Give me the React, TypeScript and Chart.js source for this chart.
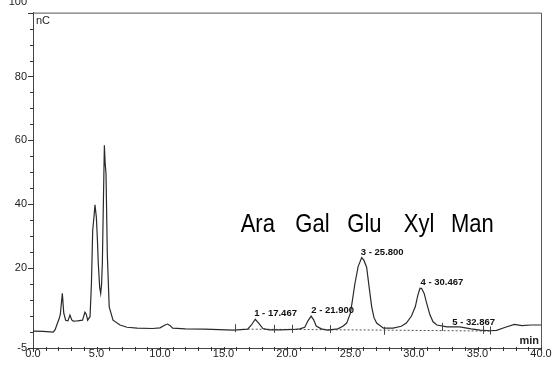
import React, { useEffect, useRef } from "react";
import { Chart, registerables } from "chart.js";

Chart.register(...registerables);

// Chromatogram trace (time in min, signal in nC)
const times = [
  0.0, 0.8, 1.6, 1.75, 1.9, 2.07, 2.15, 2.31, 2.42, 2.57, 2.75, 2.91, 3.05, 3.17, 3.5, 3.9, 4.09, 4.2, 4.3, 4.49,
  4.6, 4.7, 4.8, 4.88, 4.99, 5.07, 5.14, 5.25, 5.33, 5.4, 5.46, 5.54, 5.62, 5.68, 5.75, 5.85, 6.0, 6.3, 6.85, 7.4,
  8.2, 9.4, 10.0, 10.4, 10.6, 10.8, 11.0, 12.0, 13.5, 15.8, 16.9, 17.2, 17.5, 17.8, 18.1, 18.6, 19.5, 20.5, 21.0, 21.4,
  21.65, 21.9, 22.1, 22.3, 22.7, 23.2, 24.0, 24.4, 24.7, 25.0, 25.35, 25.6, 25.88, 26.05, 26.27, 26.47, 26.67, 26.85, 27.06, 27.6,
  28.35, 29.0, 29.4, 29.8, 30.1, 30.3, 30.47, 30.6, 30.8, 31.0, 31.26, 31.5, 31.8, 32.6, 33.6, 34.5, 35.2, 36.0, 36.5, 37.2,
  37.9, 38.5, 39.2, 40.0,
];
const signal = [
  0.3, 0.2, 0.0, 0.8, 2.5, 4.3, 5.5, 12.1, 6.0, 3.7, 3.5, 5.3, 3.8, 3.4, 3.5, 3.7, 6.2, 5.5, 3.7, 4.8,
  15, 31.8, 36, 39.8, 35.9, 29, 21.5, 14, 12.1, 15, 21.5, 40.2, 58.5, 53, 49.5, 24.6, 7.9, 3.7, 2.2, 1.5,
  1.2, 1.1, 1.3, 2.2, 2.5, 2.0, 1.2, 1.0, 0.9, 0.6, 0.9, 2.2, 4.0, 2.6, 1.1, 0.7, 0.7, 0.8, 1.0, 1.5,
  3.5, 5.0, 3.8, 1.9, 1.0, 0.6, 1.0, 1.8, 2.8, 6.0, 15.2, 20.5, 23.3, 22.5, 20.3, 14, 7.9, 4.5, 2.8, 1.2,
  1.2, 1.8, 2.8, 5.0, 7.9, 11.5, 13.7, 13.6, 12.1, 9.0, 5.3, 3.2, 2.2, 1.6, 1.6, 1.0, 0.6, 0.4, 0.5, 1.5,
  2.4, 2.0, 2.2, 2.2,
];

// Integration baseline (dashed)
const baseTimes = [16.9, 27.6, 36.0];
const baseValues = [0.9, 0.6, 0.3];

// Integration markers (short vertical ticks)
const markerTimes = [15.9, 19.0, 20.4, 23.4, 27.6, 32.2, 35.4, 36.0];
const markerValues = [1.2, 1.0, 1.0, 0.9, 0.4, 1.6, 0.7, 0.5];

// Peak labels
const peakLabels = ["1 - 17.467", "2 - 21.900", "3 - 25.800", "4 - 30.467", "5 - 32.867"];
const peakLabelX = [19.1, 23.6, 27.5, 32.2, 34.7];
const peakLabelY = [5.9, 6.8, 24.9, 15.6, 3.1];

// Sugar names
const sugars = ["Ara", "Gal", "Glu", "Xyl", "Man"];
const sugarX = [17.7, 22.0, 26.1, 30.4, 34.6];
const sugarY = 33.6;

// Axis ticks
const yLabelled = [-5, 20, 40, 60, 80, 100];
const xMin = 0;
const xMax = 40;
const yMin = -5;
const yMax = 100;

const FONT = "'Liberation Sans', Arial, sans-serif";

const overlay = {
  id: "overlay",
  afterDraw(chart: any) {
    const { ctx, chartArea, scales } = chart;
    const xs = scales.x;
    const ys = scales.y;
    const { left, right, top, bottom } = chartArea;
    ctx.save();
    // frame top + right
    ctx.strokeStyle = "#555";
    ctx.lineWidth = 1;
    ctx.beginPath();
    ctx.moveTo(left, top + 0.5);
    ctx.lineTo(right + 0.5, top + 0.5);
    ctx.lineTo(right + 0.5, bottom);
    ctx.stroke();

    // y ticks
    ctx.strokeStyle = "#333";
    ys.ticks.forEach((t: any) => {
      const p = Math.round(ys.getPixelForValue(t.value)) + 0.5;
      const len = yLabelled.includes(t.value) ? 5 : 3;
      ctx.beginPath();
      ctx.moveTo(left - len, p);
      ctx.lineTo(left, p);
      ctx.stroke();
    });
    // x ticks
    xs.ticks.forEach((t: any) => {
      const p = Math.round(xs.getPixelForValue(t.value)) + 0.5;
      const len = t.value % 5 === 0 ? 4 : 3;
      ctx.beginPath();
      ctx.moveTo(p, bottom - 1);
      ctx.lineTo(p, bottom + len);
      ctx.stroke();
    });

    // 100 label (cut at top as in the scan)
    ctx.fillStyle = "#222";
    ctx.font = `11px ${FONT}`;
    ctx.textAlign = "right";
    ctx.textBaseline = "alphabetic";
    ctx.fillText("100", left - 6, ys.getPixelForValue(100) - 8);

    // units
    ctx.textAlign = "left";
    ctx.font = `11px ${FONT}`;
    ctx.textBaseline = "middle";
    ctx.fillText("nC", left + 3, top + 8);
    ctx.font = `bold 11px ${FONT}`;
    ctx.textAlign = "right";
    ctx.fillText("min", right - 2, bottom - 7);

    // markers
    ctx.strokeStyle = "#444";
    markerTimes.forEach((t, i) => {
      const px = Math.round(xs.getPixelForValue(t)) + 0.5;
      const py = ys.getPixelForValue(markerValues[i]);
      ctx.beginPath();
      ctx.moveTo(px, py - 4);
      ctx.lineTo(px, py + 4);
      ctx.stroke();
    });

    // peak labels
    ctx.font = `bold 9.5px ${FONT}`;
    ctx.textAlign = "center";
    ctx.textBaseline = "middle";
    ctx.fillStyle = "#111";
    peakLabels.forEach((s, i) => {
      ctx.fillText(s, xs.getPixelForValue(peakLabelX[i]), ys.getPixelForValue(peakLabelY[i]));
    });

    // sugar names
    ctx.font = `22px ${FONT}`;
    ctx.fillStyle = "#000";
    sugars.forEach((s, i) => {
      const px = xs.getPixelForValue(sugarX[i]);
      const py = ys.getPixelForValue(sugarY);
      ctx.save();
      ctx.translate(px, py);
      ctx.scale(1, 1.18);
      ctx.fillText(s, 0, 0);
      ctx.restore();
    });
    ctx.restore();
  },
};

export default function App() {
  const ref = useRef<HTMLCanvasElement | null>(null);
  useEffect(() => {
    if (!ref.current) return;
    const chart = new Chart(ref.current, {
      type: "line",
      data: {
        datasets: [
          {
            data: times.map((t, i) => ({ x: t, y: signal[i] })),
            borderColor: "#2a2a2a",
            borderWidth: 1.2,
            pointRadius: 0,
            tension: 0,
            fill: false,
          },
          {
            data: baseTimes.map((t, i) => ({ x: t, y: baseValues[i] })),
            borderColor: "#555",
            borderWidth: 1,
            borderDash: [2, 2],
            pointRadius: 0,
            tension: 0,
            fill: false,
          },
        ],
      },
      options: {
        animation: false,
        responsive: true,
        maintainAspectRatio: false,
        layout: { padding: { top: 12, right: 11, left: 0, bottom: 0 } },
        plugins: { legend: { display: false }, tooltip: { enabled: false } },
        scales: {
          x: {
            type: "linear",
            min: xMin,
            max: xMax,
            afterFit: (s: any) => {
              s.height = 20;
            },
            grid: { drawOnChartArea: false, drawTicks: false },
            border: { display: true, color: "#444", width: 1 },
            ticks: {
              stepSize: 1,
              autoSkip: false,
              maxRotation: 0,
              padding: -1,
              color: "#222",
              font: { family: FONT, size: 11 },
              callback: (v: any) => (Number(v) % 5 === 0 ? Number(v).toFixed(1) : ""),
            },
          },
          y: {
            type: "linear",
            min: yMin,
            max: yMax,
            afterFit: (s: any) => {
              s.width = 33;
            },
            grid: { drawOnChartArea: false, drawTicks: false },
            border: { display: true, color: "#444", width: 1 },
            ticks: {
              stepSize: 5,
              autoSkip: false,
              padding: 6,
              color: "#222",
              font: { family: FONT, size: 11 },
              callback: (v: any) => (yLabelled.includes(Number(v)) && Number(v) !== 100 ? String(v) : ""),
            },
          },
        },
      },
      plugins: [overlay],
    });
    return () => chart.destroy();
  }, []);
  return (
    <div style={{ position: "fixed", left: 0, top: 0, width: 552, height: 368, background: "#fff" }}>
      <canvas ref={ref} />
    </div>
  );
}
